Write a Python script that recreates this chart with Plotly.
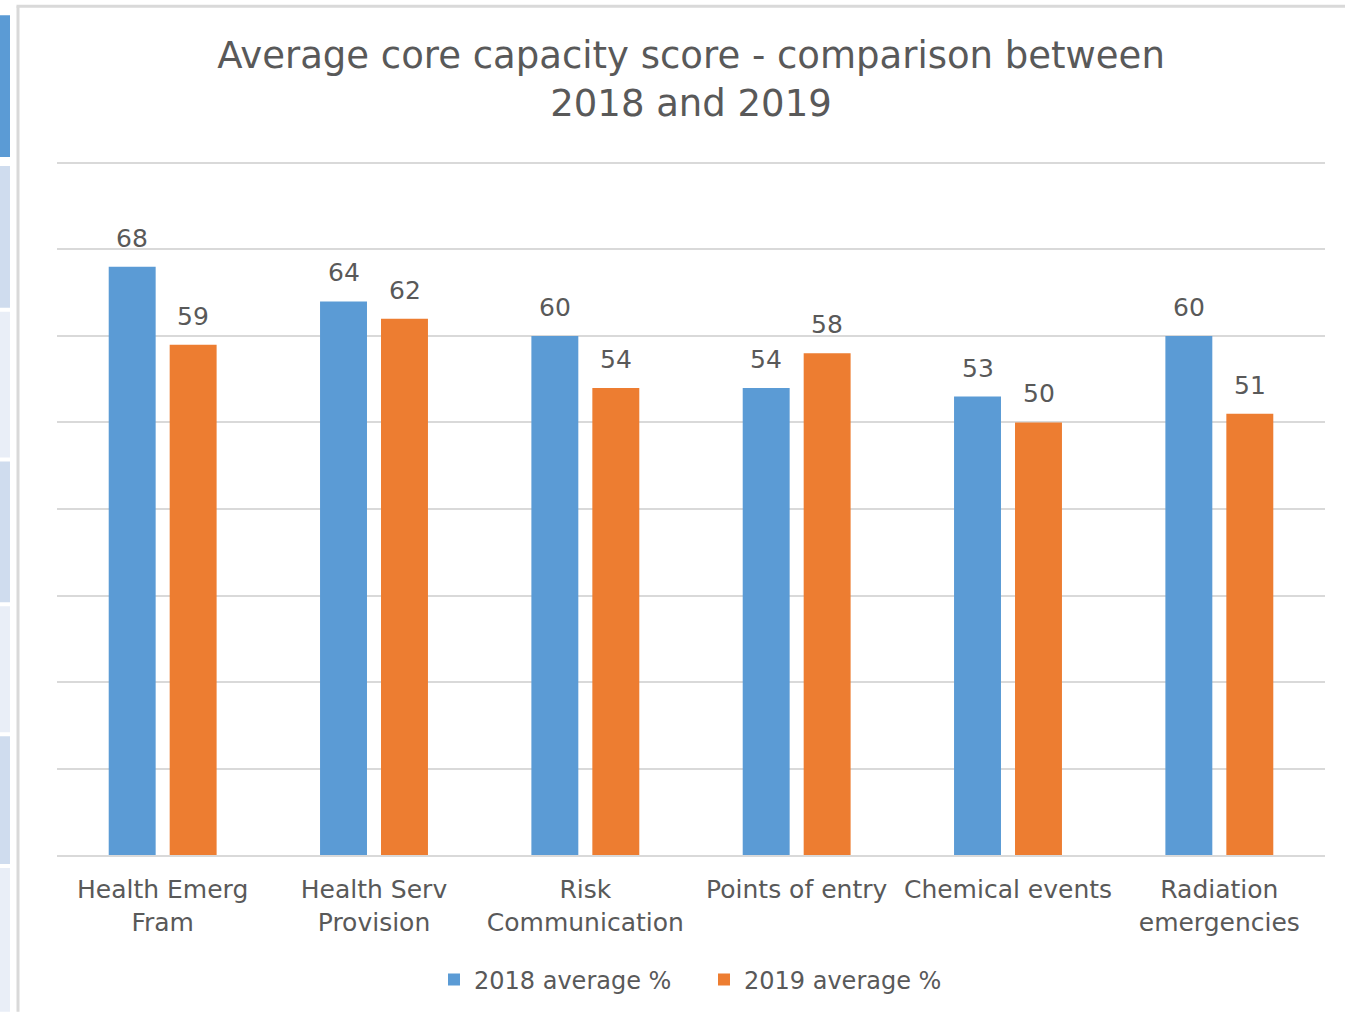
import plotly.graph_objects as go

# Core capacity categories (line breaks as shown under the axis)
categories = [
    "Health Emerg<br>Fram",
    "Health Serv<br>Provision",
    "Risk<br>Communication",
    "Points of entry",
    "Chemical events",
    "Radiation<br>emergencies",
]
scores_2018 = [68, 64, 60, 54, 53, 60]
scores_2019 = [59, 62, 54, 58, 50, 51]

series_names = ["2018 average %", "2019 average %"]
series_colors = ["#5b9bd5", "#ed7d31"]

TEXT_GRAY = "#595959"
GRID_GRAY = "#d9d9d9"
FONT = "DejaVu Sans"

W, H = 1345.0, 1013.0
M_L, M_R, M_T, M_B = 57, 20, 154, 157
PW = W - M_L - M_R
PH = H - M_T - M_B
PX_PER_UNIT = 693 / 80.0          # 0..80 spans 693 px
Y_MAX = PH / PX_PER_UNIT          # a little headroom so the 80 gridline is drawn

fig = go.Figure()
for name, vals, color in zip(series_names, [scores_2018, scores_2019], series_colors):
    fig.add_trace(go.Bar(
        x=categories, y=vals, name=name,
        marker=dict(color=color, line=dict(width=0)),
        hoverinfo="x+y",
    ))

# Value labels above each bar
annotations = []
for offset, vals in zip([-30.5, 30.5], [scores_2018, scores_2019]):
    for cat, v in zip(categories, vals):
        annotations.append(dict(
            x=cat, y=v, xref="x", yref="y", text=str(v), showarrow=False,
            xanchor="center", yanchor="bottom", xshift=offset, yshift=12,
            font=dict(family=FONT, size=25, color=TEXT_GRAY),
        ))


def py(pix):
    """Convert a page y pixel to paper coordinates."""
    return (H - M_B - pix) / PH


def px(pix):
    """Convert a page x pixel to paper coordinates."""
    return (pix - M_L) / PW


# Slide thumbnail strip and frame on the left / top edge
shapes = []
strip = [(15, 157, "#5b9bd5"), (166, 308, "#cfdcee"), (312, 458, "#e9eef7"),
         (462, 603, "#cfdcee"), (607, 733, "#e9eef7"), (737, 865, "#cfdcee"),
         (869, 1013, "#e9eef7")]
for y0, y1, c in strip:
    shapes.append(dict(type="rect", xref="paper", yref="paper",
                       x0=px(0), x1=px(10), y0=py(y1), y1=py(y0),
                       fillcolor=c, line=dict(width=0), layer="below"))
shapes.append(dict(type="line", xref="paper", yref="paper",
                   x0=px(18), x1=px(18), y0=py(H), y1=py(6),
                   line=dict(color=GRID_GRAY, width=3)))
shapes.append(dict(type="line", xref="paper", yref="paper",
                   x0=px(16.5), x1=px(W), y0=py(6), y1=py(6),
                   line=dict(color=GRID_GRAY, width=3)))

fig.update_layout(
    width=W, height=H,
    margin=dict(l=M_L, r=M_R, t=M_T, b=M_B),
    paper_bgcolor="white", plot_bgcolor="white",
    title=dict(
        text="Average core capacity score - comparison between<br>2018 and 2019",
        x=0.5, xref="paper", xanchor="center",
        y=1 - 68 / H, yref="container", yanchor="middle",
        font=dict(family=FONT, size=37, color=TEXT_GRAY),
    ),
    barmode="group", bargap=0.423, bargroupgap=0.23,
    xaxis=dict(
        showgrid=False, showline=True, linecolor=GRID_GRAY, linewidth=2,
        ticks="", ticklabelstandoff=11,
        tickfont=dict(family=FONT, size=25, color=TEXT_GRAY),
        fixedrange=True,
    ),
    yaxis=dict(
        range=[0, Y_MAX], tick0=0, dtick=10, showgrid=True, gridcolor=GRID_GRAY, gridwidth=2,
        showticklabels=False, zeroline=False, ticks="", fixedrange=True,
    ),
    legend=dict(
        orientation="h", x=px(434), xanchor="left", y=py(980), yanchor="middle",
        font=dict(family=FONT, size=24, color=TEXT_GRAY),
        itemwidth=30, entrywidth=225, entrywidthmode="pixels", traceorder="normal",
    ),
    annotations=annotations,
    shapes=shapes,
)

fig.write_html("out.html")
